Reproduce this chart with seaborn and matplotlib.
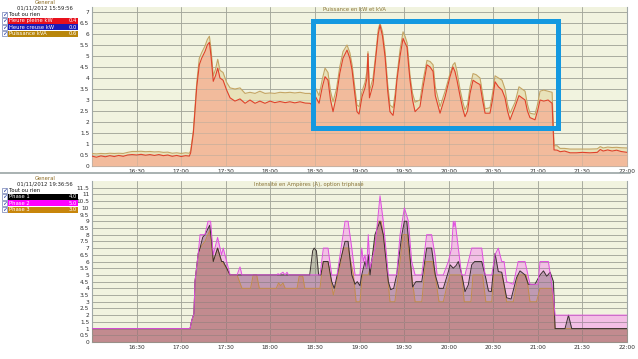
import numpy as np
import pandas as pd
import matplotlib
matplotlib.use("Agg")
import matplotlib.pyplot as plt
import seaborn as sns
from matplotlib.patches import Rectangle
from matplotlib.lines import Line2D

# ---------------- data (minutes after 16:00) ----------------
t_power = [0, 3, 6, 9, 12, 15, 18, 21, 24, 27, 30, 33, 36, 39, 42, 45, 48, 51, 54, 57, 60, 63, 65.5,
           66.4, 68.2, 70.5, 72.2, 73.8, 76.0, 77.6, 79.0, 80.1, 81.6, 83.1, 84.6, 86.1, 88.2, 90.6,
           92.9, 96.2, 99.6, 103, 106.3, 109.7, 113, 116.4, 119.8, 123, 126.5, 130, 133.2, 136.5,
           140, 143.5, 146.7, 148.7, 150, 152.8, 155, 156.8, 158.8, 160.5, 162.2, 164.5, 166.7,
           168.9, 171.6, 173.5, 175, 176.8, 178.3, 179.7, 181.7, 183.7, 185, 185.7, 186.7, 189.1,
           191.1, 192.6, 193.8, 195.5, 197.2, 199, 200.5, 202.6, 204, 205.2, 207.3, 209.3, 210.6,
           212, 213, 214, 215.7, 217.4, 220.7, 222.8, 225.4, 227.5, 229.5, 231, 234.2, 237.6,
           240.9, 242.9, 244.2, 245.6, 247.6, 249.5, 251, 252.7, 254.4, 256.4, 258.5, 261.1,
           262.8, 264.5, 267.8, 269.5, 271.2, 273.5, 275.9, 277.9, 279.6, 281.3, 284.7, 287.3,
           289.3, 291.4, 293, 294.7, 298.1, 299.8, 301.5, 304, 306.9, 309.6, 310.9, 313, 315,
           318, 321.7, 326, 330, 335, 340, 342, 344, 347, 350, 353, 356, 360]
kw_pleine = [0.45, 0.40, 0.46, 0.42, 0.47, 0.43, 0.48, 0.44, 0.50, 0.52, 0.50, 0.53, 0.49, 0.52, 0.48,
             0.52, 0.47, 0.50, 0.44, 0.48, 0.43, 0.47, 0.45,
             0.6, 1.5, 3.6, 4.6, 4.9, 5.2, 5.5, 5.62, 5.0, 3.85, 4.1, 4.45, 4.0, 3.9, 3.45,
             3.1, 2.95, 3.05, 2.85, 3.0, 2.85, 2.95, 2.85, 2.95, 2.88, 2.93, 2.88, 2.92, 2.87,
             2.92, 2.86, 2.85, 2.75, 3.2, 2.85, 3.6, 4.06, 3.9, 3.0, 2.47, 3.2, 4.2,
             4.9, 5.27, 4.9, 4.36, 3.3, 2.47, 2.36, 3.15, 3.55, 4.0, 5.1, 3.1, 3.7,
             5.0, 6.0, 6.4, 5.9, 4.97, 3.4, 2.47, 2.3, 3.0, 3.9, 5.0, 5.8, 5.6,
             5.4, 4.6, 3.9, 3.0, 2.47, 2.7, 3.6, 4.6, 4.5, 4.3, 3.2, 2.4, 3.15,
             4.06, 4.5, 4.3, 3.9, 3.2, 2.6, 2.24, 2.5, 3.3, 3.9, 3.8, 3.7,
             3.0, 2.4, 2.4, 3.0, 3.83, 3.6, 3.45, 3.1, 2.5, 2.1, 2.7, 3.2,
             3.1, 3.0, 2.5, 2.2, 2.1, 2.5, 3.0, 2.95, 3.0, 2.85, 0.73, 0.72, 0.65,
             0.68, 0.6, 0.6, 0.62, 0.6, 0.62, 0.75, 0.68, 0.73, 0.68, 0.72, 0.66, 0.62]
kva = [0.57, 0.55, 0.57, 0.56, 0.58, 0.57, 0.58, 0.57, 0.62, 0.66, 0.66, 0.67, 0.65, 0.66, 0.64,
       0.65, 0.62, 0.63, 0.58, 0.60, 0.57, 0.60, 0.58,
       0.7, 1.6, 3.8, 4.9, 5.15, 5.45, 5.75, 5.9, 5.3, 4.1, 4.4, 4.85, 4.35, 4.25, 3.8,
       3.55, 3.5, 3.55, 3.3, 3.35, 3.3, 3.4, 3.3, 3.32, 3.3, 3.35, 3.33, 3.35, 3.32,
       3.35, 3.3, 3.3, 3.2, 3.6, 3.2, 3.95, 4.45, 4.25, 3.4, 2.92, 3.5, 4.5,
       5.2, 5.5, 5.15, 4.6, 3.6, 2.77, 2.7, 3.4, 3.8, 4.3, 5.2, 3.4, 4.0,
       5.2, 6.2, 6.5, 6.1, 5.2, 3.7, 2.77, 2.65, 3.3, 4.1, 5.3, 6.1, 5.9,
       5.6, 4.9, 4.1, 3.3, 2.9, 3.0, 3.9, 4.8, 4.75, 4.6, 3.6, 2.7, 3.4,
       4.2, 4.6, 4.7, 4.3, 3.5, 2.9, 2.55, 2.8, 3.6, 4.2, 4.15, 4.0,
       3.3, 2.6, 2.65, 3.3, 4.1, 4.0, 3.9, 3.5, 2.8, 2.4, 2.9, 3.6,
       3.5, 3.4, 2.8, 2.4, 2.35, 2.8, 3.4, 3.45, 3.4, 3.35, 0.92, 0.92, 0.8,
       0.8, 0.77, 0.77, 0.77, 0.77, 0.78, 0.88, 0.82, 0.86, 0.84, 0.85, 0.83, 0.82]

t_phase1 = [0, 66, 67.1, 68.6, 69.3, 71.5, 72.7, 74.5, 76, 79.2, 80.5, 81.6, 84.5, 87.2, 88.3, 90.6,
            92.9, 146.5, 148.5, 149.5, 151, 152.5, 154, 155.7, 158.8, 161.3, 163, 167, 170.3, 172.3,
            174.8, 177, 178.5, 180.3, 181.5, 183.7, 184.8, 185.9, 187.1, 190.4, 193.8, 196, 199.4,
            201, 203, 205, 208.5, 210.2, 211.8, 213.5, 215.7, 218, 221.9, 225.2, 228.5, 231, 233.5,
            236.4, 239.8, 241, 243.1, 245, 246.5, 248.7, 251, 253.2, 255.5, 257.5, 262.2, 264.5,
            266.8, 268.7, 271.2, 273.4, 275.7, 279, 282, 285.7, 288, 291.4, 293.6, 298, 301.5,
            303.8, 306, 308.3, 310.5, 311.6, 318.3, 320.6, 322.8, 360]
amp_phase1 = [1.0, 1.0, 1.6, 2.1, 4.5, 6.6, 7.0, 7.8, 8.0, 8.7, 7.5, 6.0, 7.0, 6.0, 6.0, 5.5,
              5.0, 5.0, 6.8, 7.0, 6.8, 5.0, 5.0, 6.0, 6.0, 4.5, 4.0, 6.0, 7.5, 7.5,
              5.0, 4.3, 4.5, 4.2, 5.0, 6.0, 5.5, 6.5, 5.0, 8.0, 9.0, 8.0, 4.5,
              3.9, 4.0, 5.0, 8.0, 9.0, 9.0, 7.0, 4.1, 4.5, 4.5, 7.0, 7.0, 5.0, 4.0,
              4.0, 5.25, 5.75, 5.5, 5.7, 6.0, 5.1, 3.75, 4.25, 5.75, 6.0, 6.0, 5.0,
              3.8, 3.75, 6.6, 5.25, 5.2, 3.3, 3.2, 4.8, 5.3, 5.0, 4.3, 4.3, 5.0,
              5.3, 4.9, 5.2, 4.5, 1.0, 1.0, 2.0, 1.0, 1.0]

t_phase2 = [0, 66, 67.1, 68.6, 69.3, 71.5, 72.7, 76, 78.1, 79.8, 81.6, 84.5, 87.2, 88.3, 90.6, 92.9,
            97.6, 99.6, 100.9, 124.5, 125.2, 125.8, 128.5, 129.9, 131.2, 132.2, 153.4, 155.7, 158.8,
            161.3, 164.9, 170.3, 172.3, 174.8, 177, 180.3, 181.5, 182.6, 183.7, 184.8, 185.9, 187.1,
            190.4, 193.8, 196, 199.4, 205, 207.3, 210.2, 212.9, 215.1, 217.4, 221.9, 225.2, 228.5,
            230.8, 232.2, 236.4, 239.8, 242, 243.1, 243.6, 244.3, 246.5, 248.7, 251, 255.5, 262.2,
            264.5, 269, 271.2, 273.4, 275.7, 277.3, 279, 283.5, 286.8, 291.4, 294.7, 300.1, 301.5,
            307.1, 310.4, 311.6, 360]
amp_phase2 = [1.0, 1.0, 1.6, 2.1, 4.5, 6.6, 8.0, 8.0, 9.0, 9.0, 6.5, 7.8, 6.5, 7.0, 6.0, 5.0,
              5.0, 5.6, 5.0, 5.0, 5.1, 5.0, 5.2, 5.0, 5.2, 5.0, 5.0, 7.0, 7.0,
              5.0, 5.0, 9.0, 9.0, 7.0, 5.0, 5.0, 7.0, 6.0, 6.5, 5.5, 8.0, 5.5,
              7.0, 10.9, 9.0, 5.0, 5.0, 8.0, 10.0, 9.0, 6.0, 5.0, 5.0, 8.0, 8.0,
              6.5, 5.0, 5.0, 6.0, 7.0, 9.0, 8.6, 9.0, 7.0, 5.0, 5.0, 7.0, 7.0,
              5.0, 5.0, 6.5, 7.0, 6.0, 6.0, 4.5, 4.3, 6.0, 6.0, 4.3, 4.3, 6.0,
              6.0, 3.5, 2.0, 2.0]

t_phase3 = [0, 66, 67.1, 68.6, 69.3, 71.5, 72.7, 76, 79.2, 81.6, 84.5, 87.2, 90.6, 92.9, 97.6,
            100.9, 106.7, 108.5, 110.8, 112.6, 124, 125.5, 127, 128.5, 130, 138, 139.4, 141.8,
            143.2, 153.4, 155.5, 158.8, 162.4, 165.7, 169.2, 172.3, 175.9, 177.7, 180.3, 182, 185.9,
            188.3, 192.6, 194.6, 197.2, 200.5, 203.8, 207.3, 209.3, 211.8, 214, 217.4, 221.9, 224.5,
            229, 231.5, 233.5, 236.4, 239, 240.9, 248.7, 250.5, 255, 256.4, 262.8, 265, 269, 270.3,
            276, 279, 283.5, 286.8, 292.3, 294.7, 299.1, 301.5, 309.6, 311.6, 360]
amp_phase3 = [1.0, 1.0, 1.6, 2.1, 4.5, 6.6, 7.0, 7.5, 8.3, 6.0, 7.0, 6.0, 5.5, 5.0, 5.0,
              4.0, 4.0, 5.0, 5.0, 4.0, 4.0, 4.4, 4.2, 4.4, 4.0, 4.0, 4.9, 4.9,
              4.0, 4.0, 6.0, 6.0, 3.5, 5.0, 7.0, 7.0, 5.0, 3.0, 3.0, 5.0, 5.0,
              6.0, 9.0, 9.0, 7.0, 3.0, 3.0, 6.0, 8.0, 8.0, 6.0, 3.0, 3.0, 6.0,
              6.0, 4.5, 3.0, 3.0, 4.25, 5.0, 5.0, 3.0, 3.0, 5.0, 5.0, 3.0, 3.0, 5.0,
              5.0, 3.0, 3.0, 5.0, 5.0, 3.0, 3.0, 4.0, 4.0, 1.0, 1.0]

x_ticks = [30, 60, 90, 120, 150, 180, 210, 240, 270, 300, 330, 360]
x_labels = ["16:30", "17:00", "17:30", "18:00", "18:30", "19:00", "19:30", "20:00",
            "20:30", "21:00", "21:30", "22:00"]
top_yticks = [i * 0.5 for i in range(15)]
bot_yticks = [i * 0.5 for i in range(24)]

top_legend_names = ["Heure pleine kW", "Heure creuse kW", "Puissance kVA"]
top_legend_vals = ["0.4", "0.0", "0.6"]
top_legend_cols = ["#e8101c", "#1a1ab8", "#b8860b"]
bot_legend_names = ["Phase 1", "Phase 2", "Phase 3"]
bot_legend_vals = ["4.0", "5.0", "3.0"]
bot_legend_cols = ["#000000", "#ff00ff", "#c8860b"]

# ---------------- figure ----------------
sns.set_style("white")
plt.rcParams["font.family"] = ["DejaVu Sans"]
W, H = 638, 359
fig = plt.figure(figsize=(W / 100, H / 100), dpi=100, facecolor="white")

BG = "#f1f3df"
GRID = "#a3a69a"

def fx(px):
    return px / W

def fy(py):
    return 1 - py / H

ax1 = fig.add_axes([fx(92), fy(166), fx(627) - fx(92), fy(6.5) - fy(166)])
ax2 = fig.add_axes([fx(92), fy(342), fx(627) - fx(92), fy(181) - fy(342)])

df_p = pd.DataFrame({"t": t_power, "kw": kw_pleine, "kva": kva})

# top panel
ax1.set_facecolor(BG)
ax1.fill_between(df_p["t"], 0, df_p["kva"], color="#e8e2b9", lw=0, zorder=2)
ax1.fill_between(df_p["t"], 0, df_p["kw"], color="#f2bb9c", lw=0, zorder=3)
sns.lineplot(data=df_p, x="t", y="kva", ax=ax1, color="#c4a564", lw=0.8, sort=False,
             estimator=None, zorder=6)
sns.lineplot(data=df_p, x="t", y="kw", ax=ax1, color="#e0412b", lw=0.8, sort=False,
             estimator=None, zorder=7)
ax1.set_ylim(0, 7.25)

# bottom panel
d1 = pd.DataFrame({"t": t_phase1, "a": amp_phase1})
d2 = pd.DataFrame({"t": t_phase2, "a": amp_phase2})
d3 = pd.DataFrame({"t": t_phase3, "a": amp_phase3})
ax2.set_facecolor(BG)
ax2.fill_between(d2["t"], 0, d2["a"], color="#ff00ff", alpha=0.21, lw=0, zorder=2)
ax2.fill_between(d1["t"], 0, d1["a"], color="#303020", alpha=0.26, lw=0, zorder=3)
ax2.fill_between(d3["t"], 0, d3["a"], color="#c86a40", alpha=0.30, lw=0, zorder=4)
sns.lineplot(data=d3, x="t", y="a", ax=ax2, color="#c48c4c", lw=0.7, sort=False, estimator=None, zorder=6)
sns.lineplot(data=d1, x="t", y="a", ax=ax2, color="#3a3030", lw=0.7, sort=False, estimator=None, zorder=7)
sns.lineplot(data=d2, x="t", y="a", ax=ax2, color="#e050e0", lw=0.7, sort=False, estimator=None, zorder=8)
ax2.set_ylim(0, 12.0)

for ax, yt in ((ax1, top_yticks), (ax2, bot_yticks)):
    ax.set_xlim(0, 360)
    ax.set_xticks(x_ticks)
    ax.set_xticklabels(x_labels)
    ax.set_yticks(yt)
    ax.set_yticklabels([("%g" % v) for v in yt])
    ax.tick_params(axis="both", length=0, labelsize=4.2, colors="#303030", pad=2)
    ax.grid(True, color=GRID, lw=0.6, zorder=1)
    ax.set_axisbelow(True)
    ax.set_xlabel("")
    ax.set_ylabel("")
    for s in ax.spines.values():
        s.set_color("#a0a8a8")
        s.set_linewidth(0.8)
    ax.spines["top"].set_visible(False)

# grid also visible through the filled areas, like the reference
for ax in (ax1, ax2):
    for yv in ax.get_yticks():
        ax.axhline(yv, color=GRID, lw=0.5, alpha=0.55, zorder=5)
    for xv in ax.get_xticks():
        ax.axvline(xv, color=GRID, lw=0.5, alpha=0.45, zorder=5)

ax1.text(0.49, 0.997, "Puissance en kW et kVA", transform=ax1.transAxes, fontsize=3.8,
         color="#8a7438", ha="center", va="top")
ax2.text(0.405, 0.997, "Intensité en Ampères (A), option triphasé", transform=ax2.transAxes,
         fontsize=3.8, color="#8a7438", ha="center", va="top")

# highlight box
ax1.add_patch(Rectangle((148.4, 1.75), 313.3 - 148.4, 6.59 - 1.75, fill=False,
                        edgecolor="#1499e0", lw=3.6, zorder=10, clip_on=False))

# separator between panels
fig.add_artist(Line2D([0, fx(630)], [fy(172.5), fy(172.5)], color="#9aa4a4", lw=1.2))

# legends on the left
def legend_block(y0, date, names, vals, cols):
    fig.text(fx(45), fy(y0), "General", fontsize=3.8, color="#8a6a20", ha="center", va="center")
    fig.text(fx(45), fy(y0 + 6), date, fontsize=3.8, color="#202020", ha="center", va="center")
    rows = ["Tout ou rien"] + names
    for i, name in enumerate(rows):
        yc = y0 + 12.5 + i * 6.4
        fig.add_artist(Rectangle((fx(1.5), fy(yc + 2.6)), fx(5.5), fy(yc - 2.6) - fy(yc + 2.6),
                                 facecolor="white", edgecolor="#5060a0", lw=0.4))
        fig.text(fx(4.2), fy(yc), "\u2713", fontsize=4.5, color="#1830a0", ha="center",
                 va="center", fontweight="bold")
        if i == 0:
            fig.text(fx(9), fy(yc), name, fontsize=3.8, color="#101010", ha="left", va="center")
        else:
            c = cols[i - 1]
            fig.add_artist(Rectangle((fx(8), fy(yc + 3.1)), fx(70), fy(yc - 3.1) - fy(yc + 3.1),
                                     facecolor=c, edgecolor="none"))
            fig.text(fx(9), fy(yc), name, fontsize=3.8, color="white", ha="left", va="center")
            fig.text(fx(77), fy(yc), vals[i - 1], fontsize=3.8, color="white", ha="right",
                     va="center")

legend_block(2.0, "01/11/2012 15:59:56", top_legend_names, top_legend_vals, top_legend_cols)
legend_block(178.0, "01/11/2012 19:36:56", bot_legend_names, bot_legend_vals, bot_legend_cols)

fig.savefig("out.png", dpi=100, facecolor="white")
